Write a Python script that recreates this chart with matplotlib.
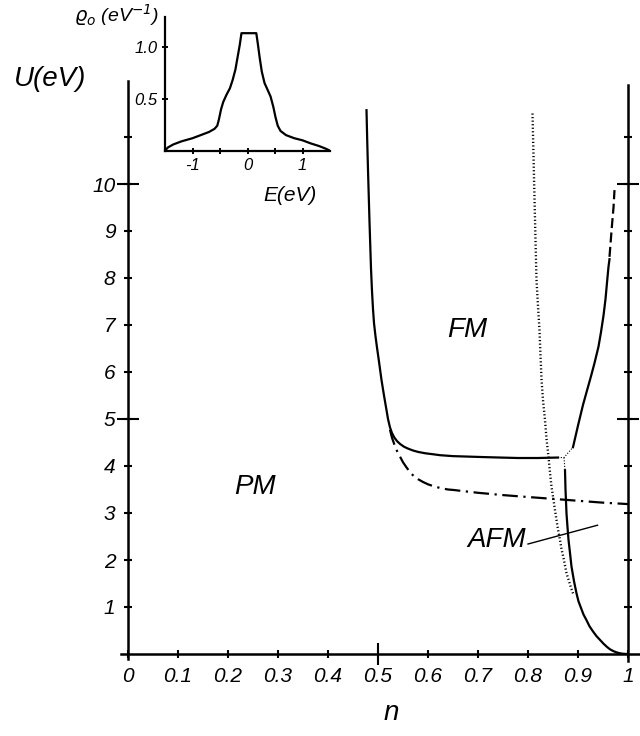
import matplotlib
matplotlib.use('Agg')
import matplotlib.pyplot as plt
import numpy as np

plt.rcParams['font.family'] = ['Liberation Sans', 'DejaVu Sans']
plt.rcParams['font.style'] = 'italic'
plt.rcParams['mathtext.fontset'] = 'dejavusans'

# phase boundaries in the (n, U) plane
fm_left_n = [0.477, 0.4785, 0.480, 0.4815, 0.483, 0.4845, 0.486, 0.488, 0.490, 0.492,
             0.495, 0.498, 0.502, 0.507, 0.512, 0.517, 0.520, 0.524, 0.528, 0.533,
             0.538, 0.544, 0.552, 0.560, 0.570, 0.580, 0.595, 0.610, 0.624, 0.650,
             0.680, 0.710, 0.744, 0.780, 0.820, 0.860]
fm_left_U = [11.57, 10.9, 10.3, 9.75, 9.2, 8.7, 8.2, 7.72, 7.34, 7.04,
             6.76, 6.52, 6.22, 5.83, 5.50, 5.19, 5.00, 4.82, 4.70, 4.60,
             4.53, 4.47, 4.41, 4.37, 4.33, 4.30, 4.27, 4.25, 4.23, 4.21,
             4.20, 4.19, 4.18, 4.17, 4.17, 4.18]

fm_right_n = [0.890, 0.895, 0.900, 0.905, 0.910, 0.916, 0.921, 0.926, 0.933, 0.941,
              0.946, 0.951, 0.955, 0.958, 0.961, 0.963]
fm_right_U = [4.40, 4.63, 4.86, 5.08, 5.30, 5.53, 5.72, 5.91, 6.19, 6.54,
              6.85, 7.20, 7.55, 7.90, 8.24, 8.40]

fm_right_dash_n = [0.963, 0.965, 0.967, 0.969, 0.971, 0.973]
fm_right_dash_U = [8.45, 8.72, 9.00, 9.25, 9.50, 9.87]

link_n = [0.860, 0.872, 0.890]
link_U = [4.18, 4.18, 4.40]
link2_n = [0.872, 0.874]
link2_U = [4.18, 3.91]

dotted_n = [0.809, 0.811, 0.813, 0.815, 0.817, 0.820, 0.823, 0.825, 0.827, 0.830,
            0.834, 0.837, 0.841, 0.844, 0.847, 0.851, 0.854, 0.857, 0.860, 0.864,
            0.867, 0.871, 0.874, 0.877, 0.882, 0.886, 0.890]
dotted_U = [11.5, 10.6, 9.7, 8.8, 7.96, 7.4, 6.89, 6.35, 5.85, 5.40,
            4.98, 4.58, 4.20, 3.86, 3.56, 3.28, 3.06, 2.85, 2.65, 2.43,
            2.23, 2.05, 1.88, 1.72, 1.55, 1.41, 1.29]

afm_n = [0.874, 0.875, 0.877, 0.879, 0.881, 0.884, 0.887, 0.892, 0.897, 0.901,
         0.906, 0.911, 0.917, 0.923, 0.930, 0.937, 0.944, 0.951, 0.958, 0.964,
         0.971, 0.977, 0.982, 0.988, 0.994, 1.0]
afm_U = [3.91, 3.50, 2.99, 2.70, 2.43, 2.15, 1.86, 1.55, 1.29, 1.12,
         0.98, 0.84, 0.72, 0.59, 0.48, 0.38, 0.30, 0.22, 0.15, 0.10,
         0.06, 0.035, 0.02, 0.008, 0.002, 0.0]

dashdot_n = [0.524, 0.528, 0.533, 0.538, 0.544, 0.550, 0.557, 0.564, 0.571, 0.580,
             0.590, 0.600, 0.611, 0.625, 0.640, 0.651, 0.675, 0.700, 0.751, 0.800,
             0.851, 0.900, 0.950, 1.0]
dashdot_U = [4.77, 4.60, 4.45, 4.32, 4.20, 4.08, 3.97, 3.87, 3.79, 3.72,
             3.66, 3.61, 3.57, 3.53, 3.50, 3.49, 3.46, 3.43, 3.38, 3.34,
             3.30, 3.26, 3.22, 3.19]

# density of states for the inset
dos_E = [-1.50, -1.45, -1.35, -1.20, -1.00, -0.85, -0.70, -0.60, -0.55, -0.52,
         -0.48, -0.44, -0.38, -0.32, -0.27, -0.22, -0.18, -0.14, -0.11,
         0.16, 0.19, 0.22, 0.26, 0.31, 0.37, 0.42, 0.47, 0.51, 0.55,
         0.60, 0.70, 0.85, 1.00, 1.15, 1.30, 1.42, 1.50]
dos_g = [0.0, 0.03, 0.06, 0.09, 0.12, 0.15, 0.18, 0.21, 0.24, 0.30,
         0.40, 0.47, 0.54, 0.60, 0.68, 0.78, 0.90, 1.02, 1.13,
         1.13, 1.02, 0.90, 0.76, 0.65, 0.58, 0.52, 0.42, 0.32, 0.24,
         0.19, 0.15, 0.12, 0.10, 0.07, 0.045, 0.02, 0.0]

n_ticks = [0, 0.1, 0.2, 0.3, 0.4, 0.5, 0.6, 0.7, 0.8, 0.9, 1]
n_labels = ['0', '0.1', '0.2', '0.3', '0.4', '0.5', '0.6', '0.7', '0.8', '0.9', '1']
U_ticks = [1, 2, 3, 4, 5, 6, 7, 8, 9, 10, 11]
U_labels = ['1', '2', '3', '4', '5', '6', '7', '8', '9', '10', '']

fig = plt.figure(figsize=(6.4, 7.36), dpi=100)
W, H = 640.0, 736.0

# main axes: n=0 at x=128px, n=1 at 628px; U=0 at y=654px, 47px per eV
x0, x1 = -0.05, 1.024
y0, y1 = -0.4, 12.3
left = 128 + x0 * 500
bottom = 654 - y0 * 47
ax = fig.add_axes([left / W, (H - bottom) / H,
                   (x1 - x0) * 500 / W, (y1 - y0) * 47 / H])
ax.set_xlim(x0, x1)
ax.set_ylim(y0, y1)

lw = 1.6
ax.plot(fm_left_n, fm_left_U, color='black', lw=lw)
ax.plot(fm_right_n, fm_right_U, color='black', lw=lw)
ax.plot(fm_right_dash_n, fm_right_dash_U, color='black', lw=lw, linestyle=(0, (4.5, 2)))
ax.plot(link_n, link_U, color='black', lw=0.8, linestyle=(0, (1, 1.5)))
ax.plot(link2_n, link2_U, color='black', lw=0.8, linestyle=(0, (1, 1.5)))
ax.plot(dotted_n, dotted_U, color='black', lw=1.7, linestyle=(0, (0.5, 1.0)))
ax.plot(afm_n, afm_U, color='black', lw=lw)
ax.plot(dashdot_n, dashdot_U, color='black', lw=lw, linestyle=(0, (7, 2.5, 1, 2.5)))

ax.text(0.678, 6.89, 'FM', fontsize=20, ha='center', va='center')
ax.text(0.254, 3.55, 'PM', fontsize=20, ha='center', va='center')
ax.text(0.738, 2.42, 'AFM', fontsize=20, ha='center', va='center')
ax.plot([0.80, 0.939], [2.34, 2.74], color='black', lw=1.0)

ax.spines['top'].set_visible(False)
ax.spines['left'].set_position(('data', 0))
ax.spines['right'].set_position(('data', 1))
ax.spines['bottom'].set_position(('data', 0))
ax.spines['left'].set_bounds(-0.1, 12.2)
ax.spines['right'].set_bounds(-0.15, 12.1)
ax.spines['bottom'].set_bounds(-0.014, 1.03)
for s in ['left', 'right', 'bottom']:
    ax.spines[s].set_linewidth(1.8)

ax.xaxis.remove_overlapping_locs = False
ax.yaxis.remove_overlapping_locs = False
ax.set_xticks(n_ticks, labels=n_labels)
ax.set_xticks([0.5], minor=True)
ax.set_yticks(U_ticks, labels=U_labels)
ax.set_yticks([5, 10], minor=True)
ax.tick_params(which='major', direction='inout', length=6, width=1.5, pad=6,
               labelsize=15, left=True, right=True)
ax.tick_params(which='minor', direction='inout', length=16, width=1.5,
               left=True, right=True, labelleft=False, labelbottom=False)
for lab in ax.get_xticklabels() + ax.get_yticklabels():
    lab.set_fontstyle('italic')

ax.set_ylabel('U(eV)', fontsize=20, rotation=0, ha='center', va='center')
ax.yaxis.set_label_coords(-0.156, 12.23, transform=ax.transData)
ax.set_xlabel('n', fontsize=20, va='center')
ax.xaxis.set_label_coords(0.527, -1.25, transform=ax.transData)

# inset: E from -1.5 (x=165px) to 1.5 (330px), g=0 at y=150.7px, 104px per unit
ex0, ex1 = -1.5, 1.5
gy0, gy1 = 0.0, 1.285
axin = fig.add_axes([165 / W, (H - 150.7) / H,
                     (ex1 - ex0) * 55 / W, (gy1 - gy0) * 104 / H])
axin.set_xlim(ex0, ex1)
axin.set_ylim(gy0, gy1)
axin.patch.set_alpha(0)
axin.plot(dos_E, dos_g, color='black', lw=1.6)
axin.spines['top'].set_visible(False)
axin.spines['right'].set_visible(False)
for s in ['left', 'bottom']:
    axin.spines[s].set_linewidth(1.6)
axin.set_xticks([-1, -0.5, 0, 0.5, 1], labels=['-1', '', '0', '', '1'])
axin.set_yticks([0.5, 1.0], labels=['0.5', '1.0'])
axin.tick_params(direction='inout', length=5, width=1.4, labelsize=12, pad=3)
axin.set_xlabel('E(eV)', fontsize=15)
axin.xaxis.set_label_coords(0.77, -0.34, transform=axin.transData)
axin.text(-2.38, 1.30, r'$\varrho_o$ (eV$^{-1}$)', fontsize=14,
          ha='center', va='center')

fig.savefig('out.png', dpi=100)
